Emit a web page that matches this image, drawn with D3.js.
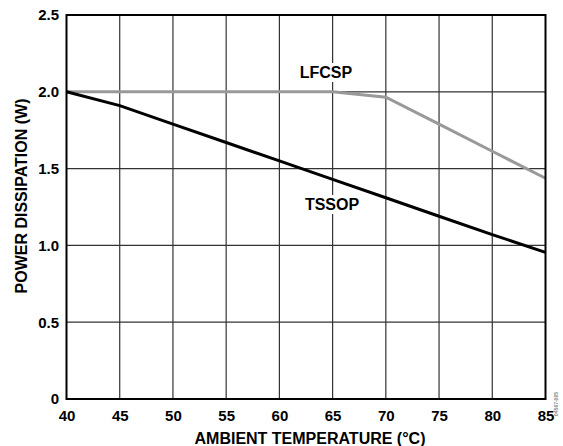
<!DOCTYPE html>
<html>
<head>
<meta charset="utf-8">
<script src="https://cdn.jsdelivr.net/npm/d3@7/dist/d3.min.js"></script>
<style>
  html, body { margin: 0; padding: 0; background: #fff; }
  svg { display: block; }
  text { font-family: "Liberation Sans", Arial, sans-serif; font-weight: bold; fill: #000; }
</style>
</head>
<body>
<svg id="chart" width="563" height="446"></svg>
<script>
// Ambient temperature (°C) sample points
const temperatures = [40, 45, 50, 55, 60, 65, 70, 75, 80, 85];
// Maximum power dissipation (W) per package
const lfcsp = [2.0, 2.0, 2.0, 2.0, 2.0, 2.0, 1.965, 1.79, 1.613, 1.437];
const tssop = [2.0, 1.91, 1.79, 1.67, 1.55, 1.43, 1.31, 1.19, 1.07, 0.955];
// Axis ticks
const xTicks = [40, 45, 50, 55, 60, 65, 70, 75, 80, 85];
const yTicks = [0, 0.5, 1.0, 1.5, 2.0, 2.5];
const yTickLabels = ["0", "0.5", "1.0", "1.5", "2.0", "2.5"];

const svg = d3.select("#chart");
const plotLeft = 66.5, plotRight = 545.5, plotTop = 15, plotBottom = 399;

const x = d3.scaleLinear().domain([40, 85]).range([plotLeft, plotRight]);
const y = d3.scaleLinear().domain([0, 2.5]).range([plotBottom, plotTop]);

// Grid
const grid = svg.append("g");
grid.selectAll("line.v").data(xTicks.slice(1, -1)).join("line")
  .attr("class", "v")
  .attr("x1", d => x(d)).attr("x2", d => x(d))
  .attr("y1", plotTop).attr("y2", plotBottom)
  .attr("stroke", "#333").attr("stroke-width", 1.2);
grid.selectAll("line.h").data(yTicks.slice(1, -1)).join("line")
  .attr("class", "h")
  .attr("x1", plotLeft).attr("x2", plotRight)
  .attr("y1", d => y(d)).attr("y2", d => y(d))
  .attr("stroke", "#333").attr("stroke-width", 1.2);

// Package labels with white backing over the grid
function label(text, cx, baseline) {
  const g = svg.append("g");
  const t = g.append("text").attr("x", cx).attr("y", baseline)
    .attr("text-anchor", "middle").attr("font-size", 16).text(text);
  const b = t.node().getBBox();
  g.insert("rect", "text").attr("x", b.x - 3).attr("y", b.y - 1)
    .attr("width", b.width + 6).attr("height", b.height + 2).attr("fill", "#fff");
}
label("LFCSP", 326, 78);
label("TSSOP", 332, 210);

// Curves
const line = d3.line().x((d, i) => x(temperatures[i])).y(d => y(d));
svg.append("path").datum(lfcsp).attr("d", line)
  .attr("fill", "none").attr("stroke", "#999").attr("stroke-width", 3);
svg.append("path").datum(tssop).attr("d", line)
  .attr("fill", "none").attr("stroke", "#000").attr("stroke-width", 3);

// Frame
svg.append("rect").attr("x", plotLeft).attr("y", plotTop)
  .attr("width", plotRight - plotLeft).attr("height", plotBottom - plotTop)
  .attr("fill", "none").attr("stroke", "#000").attr("stroke-width", 2);

// Axes (labels only; the frame draws the axis lines)
const xAxis = svg.append("g").attr("transform", `translate(0,${plotBottom})`)
  .call(d3.axisBottom(x).tickValues(xTicks).tickSize(0).tickPadding(11).tickFormat(d3.format("d")));
xAxis.select(".domain").remove();
xAxis.attr("font-family", null).attr("font-size", null);
xAxis.selectAll("text").attr("font-size", 15);

const yAxis = svg.append("g").attr("transform", `translate(${plotLeft},0)`)
  .call(d3.axisLeft(y).tickValues(yTicks).tickSize(0).tickPadding(7.5)
    .tickFormat((d, i) => yTickLabels[i]));
yAxis.select(".domain").remove();
yAxis.attr("font-family", null).attr("font-size", null);
yAxis.selectAll("text").attr("font-size", 15);

// Axis titles
svg.append("text").attr("x", 310).attr("y", 444)
  .attr("text-anchor", "middle").attr("font-size", 16)
  .text("AMBIENT TEMPERATURE (°C)");
svg.append("text")
  .attr("transform", "translate(26.5,196) rotate(-90)")
  .attr("text-anchor", "middle").attr("font-size", 16)
  .text("POWER DISSIPATION (W)");

// Figure code
svg.append("text")
  .attr("transform", "translate(558,404) rotate(-90)")
  .attr("text-anchor", "middle").attr("font-size", 5).attr("font-weight", "normal")
  .style("fill", "#888").text("04567-005");
</script>
</body>
</html>
